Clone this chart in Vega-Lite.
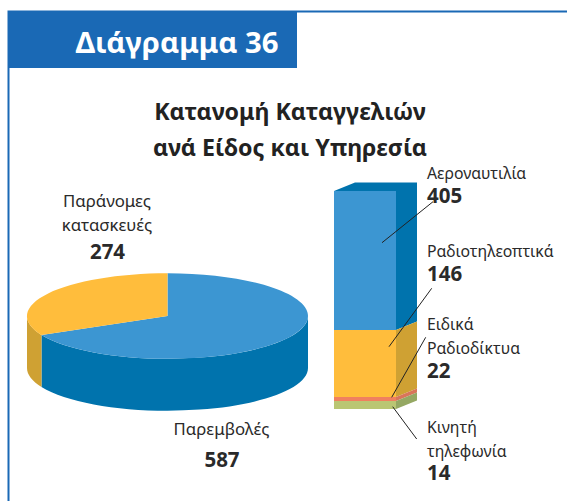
{
"$schema":"https://vega.github.io/schema/vega-lite/v6.json",
"autosize":{"type":"fit","contains":"padding"},
"width":567,"height":501,"padding":0,
"background":"white",
"view":{"stroke":null},
"config":{"axis":{"domain":false,"ticks":false,"labels":false,"grid":false,"title":null},"text":{"font":"Noto Sans"}},
"datasets":{
"head":[{"id":36,"title":"Διάγραμμα 36","sub":"Κατανομή Καταγγελιών\nανά Είδος και Υπηρεσία"}],
"pie":[{"type":"Παρεμβολές","name":"Παρεμβολές","count":587},{"type":"Παράνομες κατασκευές","name":"Παράνομες\nκατασκευές","count":274}],
"bar":[{"chart":"Υπηρεσίες","service":"Αεροναυτιλία","name":"Αεροναυτιλία","count":405,"rank":1},{"chart":"Υπηρεσίες","service":"Ραδιοτηλεοπτικά","name":"Ραδιοτηλεοπτικά","count":146,"rank":2},{"chart":"Υπηρεσίες","service":"Ειδικά Ραδιοδίκτυα","name":"Ειδικά\nΡαδιοδίκτυα","count":22,"rank":3},{"chart":"Υπηρεσίες","service":"Κινητή τηλεφωνία","name":"Κινητή\nτηλεφωνία","count":14,"rank":4}]
},
"resolve":{"scale":{"x":"independent","y":"independent","shape":"independent","color":"independent"}},
"layer":[
{"data":{"name":"head"},"mark":{"type":"point","filled":true,"size":4,"opacity":1,"strokeWidth":0},
"encoding":{"x":{"field":"id","type":"quantitative","axis":null,"scale":{"domain":[36,37],"range":[8,8],"nice":false,"zero":false}},
"y":{"field":"id","type":"quantitative","axis":null,"scale":{"domain":[36,37],"range":[11,11],"nice":false,"zero":false}},
"shape":{"field":"title","type":"nominal","legend":null,"scale":{"domain":["Διάγραμμα 36"],"range":["M-0.5 -0.5H559V1.5H289V57H1.5V490H-0.5Z"]}},
"color":{"value":"#1A69B5"}}},
{"data":{"name":"pie"},"mark":{"type":"point","filled":true,"size":4,"opacity":1,"strokeWidth":0},
"encoding":{"x":{"field":"count","type":"quantitative","axis":null,"scale":{"domain":[274,587],"range":[167.5,167.5],"nice":false,"zero":false}},
"y":{"field":"count","type":"quantitative","axis":null,"scale":{"domain":[274,587],"range":[316,316],"nice":false,"zero":false}},
"shape":{"field":"type","type":"nominal","legend":null,"scale":{"domain":["Παρεμβολές","Παράνομες κατασκευές"],"range":["M-126 18.9A140.5 42.7 0 0 0 140.5 0L140.5 52A140.5 42.7 0 0 1 -126 70.9Z","M-140.5 0A140.5 42.7 0 0 0 -126 18.9L-126 70.9A140.5 42.7 0 0 1 -140.5 52Z"]}},
"color":{"field":"type","type":"nominal","legend":null,"scale":{"domain":["Παρεμβολές","Παράνομες κατασκευές"],"range":["#0073AD","#CFA133"]}}}},
{"data":{"name":"pie"},"mark":{"type":"point","filled":true,"size":4,"opacity":1,"strokeWidth":0},
"encoding":{"x":{"field":"count","type":"quantitative","axis":null,"scale":{"domain":[274,587],"range":[167.5,167.5],"nice":false,"zero":false}},
"y":{"field":"count","type":"quantitative","axis":null,"scale":{"domain":[274,587],"range":[316,316],"nice":false,"zero":false}},
"shape":{"field":"type","type":"nominal","legend":null,"scale":{"domain":["Παρεμβολές","Παράνομες κατασκευές"],"range":["M0 0L0 -42.7A140.5 42.7 0 1 1 -126 18.9Z","M0 0L0 -42.7A140.5 42.7 0 0 0 -126 18.9Z"]}},
"color":{"field":"type","type":"nominal","legend":null,"scale":{"domain":["Παρεμβολές","Παράνομες κατασκευές"],"range":["#3C96D2","#FFBD3C"]}}}},
{"data":{"name":"bar"},"mark":{"type":"bar","orient":"vertical","size":62},
"encoding":{"x":{"field":"chart","type":"nominal","axis":null,"scale":{"type":"point","range":[365,365]}},
"y":{"field":"count","type":"quantitative","stack":"zero","axis":null,"scale":{"domain":[0,14,36,182,587],"range":[409,401,397,330,191],"nice":false,"zero":false}},
"order":{"field":"rank","sort":"descending"},
"color":{"field":"service","type":"nominal","legend":null,"scale":{"domain":["Αεροναυτιλία","Ραδιοτηλεοπτικά","Ειδικά Ραδιοδίκτυα","Κινητή τηλεφωνία"],"range":["#3C96D2","#FFBD3C","#F0805F","#BAC673"]}}}},
{"data":{"name":"bar"},"mark":{"type":"point","filled":true,"size":4,"opacity":1,"strokeWidth":0},
"encoding":{"x":{"field":"count","type":"quantitative","axis":null,"scale":{"domain":[14,405],"range":[396,396],"nice":false,"zero":false}},
"y":{"field":"count","type":"quantitative","axis":null,"scale":{"domain":[14,22,146,405],"range":[401,397,330,191],"nice":false,"zero":false}},
"shape":{"field":"service","type":"nominal","legend":null,"scale":{"domain":["Αεροναυτιλία","Ραδιοτηλεοπτικά","Ειδικά Ραδιοδίκτυα","Κινητή τηλεφωνία"],"range":["M0 0L0 139L21 130.5L21 -8.5L-41 -8.5L-62 0Z","M0 0L0 67L21 58.5L21 -8.5Z","M0 0L0 4L21 -4.5L21 -8.5Z","M0 0L0 8L21 -0.5L21 -8.5Z"]}},
"color":{"field":"service","type":"nominal","legend":null,"scale":{"domain":["Αεροναυτιλία","Ραδιοτηλεοπτικά","Ειδικά Ραδιοδίκτυα","Κινητή τηλεφωνία"],"range":["#0073AD","#CFA133","#D9755A","#95A863"]}}}},
{"data":{"name":"bar"},"mark":{"type":"rule","color":"#222222","strokeWidth":1},
"encoding":{"x":{"field":"rank","type":"quantitative","axis":null,"scale":{"domain":[1,2,3,4,14,22,146,405],"range":[382,389,391.7,392.7,416.7,425.7,431.7,433],"nice":false,"zero":false}},
"x2":{"field":"count"},
"y":{"field":"rank","type":"quantitative","axis":null,"scale":{"domain":[1,2,3,4,14,22,146,405],"range":[242.7,346.7,397.3,406.7,439,337.3,288.3,201.7],"nice":false,"zero":false}},
"y2":{"field":"count"}}},
{"data":{"name":"bar"},"mark":{"type":"text","align":"left","baseline":"middle","fontSize":15.8,"lineHeight":24,"lineBreak":"\n","color":"#2a2a2a"},
"encoding":{"x":{"field":"count","type":"quantitative","axis":null,"scale":{"domain":[14,405],"range":[427,427],"nice":false,"zero":false}},
"y":{"field":"count","type":"quantitative","axis":null,"scale":{"domain":[14,22,146,405],"range":[428,325,252,174],"nice":false,"zero":false}},
"text":{"field":"name","type":"nominal"}}},
{"data":{"name":"bar"},"mark":{"type":"text","align":"left","baseline":"middle","fontSize":20.5,"fontWeight":"bold","color":"#2a2a2a"},
"encoding":{"x":{"field":"count","type":"quantitative","axis":null,"scale":{"domain":[14,405],"range":[427,427],"nice":false,"zero":false}},
"y":{"field":"count","type":"quantitative","axis":null,"scale":{"domain":[14,22,146,405],"range":[474,372,275,197],"nice":false,"zero":false}},
"text":{"field":"count","type":"quantitative","format":"d"}}},
{"data":{"name":"pie"},"mark":{"type":"text","align":"center","baseline":"middle","fontSize":16.8,"lineHeight":23.5,"lineBreak":"\n","color":"#2a2a2a"},
"encoding":{"x":{"field":"count","type":"quantitative","axis":null,"scale":{"domain":[274,587],"range":[107,221.5],"nice":false,"zero":false}},
"y":{"field":"count","type":"quantitative","axis":null,"scale":{"domain":[274,587],"range":[202,430],"nice":false,"zero":false}},
"text":{"field":"name","type":"nominal"}}},
{"data":{"name":"pie"},"mark":{"type":"text","align":"center","baseline":"middle","fontSize":20.5,"fontWeight":"bold","color":"#2a2a2a"},
"encoding":{"x":{"field":"count","type":"quantitative","axis":null,"scale":{"domain":[274,587],"range":[107.5,222],"nice":false,"zero":false}},
"y":{"field":"count","type":"quantitative","axis":null,"scale":{"domain":[274,587],"range":[253,461],"nice":false,"zero":false}},
"text":{"field":"count","type":"quantitative","format":"d"}}},
{"data":{"name":"head"},"mark":{"type":"text","align":"center","baseline":"middle","fontSize":29.3,"fontWeight":"bold","color":"white"},
"encoding":{"x":{"field":"id","type":"quantitative","axis":null,"scale":{"domain":[36,37],"range":[177,177],"nice":false,"zero":false}},
"y":{"field":"id","type":"quantitative","axis":null,"scale":{"domain":[36,37],"range":[44,44],"nice":false,"zero":false}},
"text":{"field":"title","type":"nominal"}}},
{"data":{"name":"head"},"mark":{"type":"text","align":"center","baseline":"middle","fontSize":23.2,"fontWeight":"bold","lineHeight":36,"lineBreak":"\n","color":"#222222"},
"encoding":{"x":{"field":"id","type":"quantitative","axis":null,"scale":{"domain":[36,37],"range":[290,290],"nice":false,"zero":false}},
"y":{"field":"id","type":"quantitative","axis":null,"scale":{"domain":[36,37],"range":[113,113],"nice":false,"zero":false}},
"text":{"field":"sub","type":"nominal"}}}
]
}
